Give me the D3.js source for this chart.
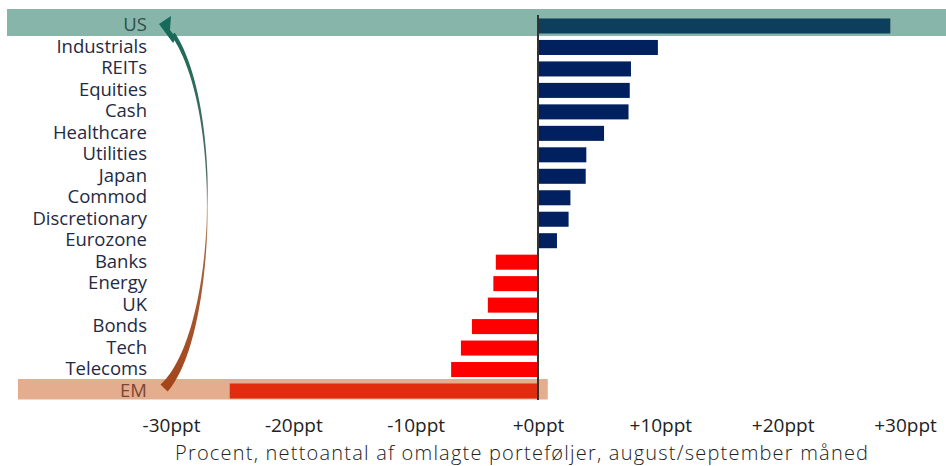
<!DOCTYPE html>
<html>
<head>
<meta charset="utf-8">
<script src="https://cdn.jsdelivr.net/npm/d3@7"></script>
<style>
  html, body { margin: 0; padding: 0; background: #fff; }
  svg { display: block; }
  text { font-family: "Open Sans", "DejaVu Sans", sans-serif; }
</style>
</head>
<body>
<svg id="chart" width="946" height="466"></svg>
<script>
// Net share of rebalanced portfolios, ppt
const categories = ["US", "Industrials", "REITs", "Equities", "Cash", "Healthcare", "Utilities",
  "Japan", "Commod", "Discretionary", "Eurozone", "Banks", "Energy", "UK", "Bonds", "Tech",
  "Telecoms", "EM"];
const values = [28.8, 9.8, 7.6, 7.5, 7.4, 5.4, 3.95, 3.9, 2.65, 2.5, 1.55, -3.45, -3.65, -4.1,
  -5.4, -6.3, -7.1, -25.2];
const tickValues = [-30, -20, -10, 0, 10, 20, 30];
const tickLabels = ["-30ppt", "-20ppt", "-10ppt", "+0ppt", "+10ppt", "+20ppt", "+30ppt"];
const axisTitle = "Procent, nettoantal af omlagte porteføljer, august/september måned";

const svg = d3.select("#chart");

const x = d3.scaleLinear().domain([-30, 30]).range([171, 905]);
const y = d3.scaleBand().domain(categories).range([15.26, 401.74])
  .paddingInner(0.3).paddingOuter(0.15);

function barColor(d, i) {
  if (d === "US") return "#0d3f5c";
  if (d === "EM") return "#e22c10";
  return values[i] >= 0 ? "#00205f" : "#ff0000";
}

// Highlight bands for the two extremes
svg.append("rect").attr("x", 7).attr("width", 939)
  .attr("y", y("US") - 9.5).attr("height", 27).attr("fill", "#88b5a9");
svg.append("rect").attr("x", 18).attr("width", x(0.8) - 18)
  .attr("y", y("EM") - 4.5).attr("height", 20.5).attr("fill", "#e4ad8e");

// Bars
svg.append("g").selectAll("rect").data(categories).join("rect")
  .attr("x", (d, i) => x(Math.min(0, values[i])))
  .attr("width", (d, i) => Math.abs(x(values[i]) - x(0)))
  .attr("y", d => y(d))
  .attr("height", y.bandwidth())
  .attr("fill", barColor);

// Category labels
svg.append("g").selectAll("text").data(categories).join("text")
  .attr("x", 147)
  .attr("y", d => y(d) + y.bandwidth() / 2 - 2)
  .attr("dominant-baseline", "central")
  .attr("text-anchor", "end")
  .attr("font-size", 18.5)
  .attr("fill", d => d === "US" ? "#2f4f4a" : d === "EM" ? "#7a4634" : "#1f2a44")
  .text(d => d);

// Zero line
svg.append("line").attr("x1", x(0)).attr("x2", x(0))
  .attr("y1", 15).attr("y2", 400)
  .attr("stroke", "#333").attr("stroke-width", 2);

// Bottom axis (labels only)
const axis = d3.axisBottom(x).tickValues(tickValues)
  .tickFormat((d, i) => tickLabels[i]).tickSize(0).tickPadding(0);
const gAxis = svg.append("g").attr("transform", "translate(0,418)").call(axis);
gAxis.select(".domain").remove();
gAxis.selectAll("text").attr("font-size", 19).attr("fill", "#222")
  .attr("font-family", "'Open Sans', sans-serif").attr("dy", "0.75em");

svg.append("text").attr("x", 175).attr("y", 460).attr("text-anchor", "start")
  .attr("font-size", 20).attr("font-weight", 300).attr("fill", "#222")
  .attr("textLength", 693).attr("lengthAdjust", "spacing")
  .text(axisTitle);

// Curved arrow from EM up to US
const defs = svg.append("defs");
const grad = defs.append("linearGradient").attr("id", "arrowGrad")
  .attr("gradientUnits", "userSpaceOnUse")
  .attr("x1", 0).attr("x2", 0).attr("y1", 20).attr("y2", 392);
grad.append("stop").attr("offset", 0).attr("stop-color", "#17695a");
grad.append("stop").attr("offset", 0.42).attr("stop-color", "#4f6e5f");
grad.append("stop").attr("offset", 0.5).attr("stop-color", "#c9b9a8");
grad.append("stop").attr("offset", 0.6).attr("stop-color", "#a8653e");
grad.append("stop").attr("offset", 1).attr("stop-color", "#a3441a");

const P = [[164, 388], [216, 335], [224, 110], [173, 34]];
function bez(t) {
  const u = 1 - t;
  const a = u * u * u, b = 3 * u * u * t, c = 3 * u * t * t, e = t * t * t;
  return [a * P[0][0] + b * P[1][0] + c * P[2][0] + e * P[3][0],
          a * P[0][1] + b * P[1][1] + c * P[2][1] + e * P[3][1]];
}
function width(t) {
  if (t < 0.5) return 1 + 9 * Math.pow(1 - t / 0.5, 1.6);
  return 1 + 3.5 * Math.pow((t - 0.5) / 0.5, 1.5);
}
const left = [], right = [];
const N = 80;
for (let k = 0; k <= N; k++) {
  const t = k / N;
  const p = bez(t), p2 = bez(Math.min(1, t + 0.001)), p1 = bez(Math.max(0, t - 0.001));
  let dx = p2[0] - p1[0], dy = p2[1] - p1[1];
  const len = Math.hypot(dx, dy); dx /= len; dy /= len;
  const nx = -dy, ny = dx, w = width(t) / 2;
  left.push([p[0] + nx * w, p[1] + ny * w]);
  right.push([p[0] - nx * w, p[1] - ny * w]);
}
const outline = left.concat(right.reverse());
svg.append("path")
  .attr("d", d3.line()(outline) + "Z")
  .attr("fill", "url(#arrowGrad)");
svg.append("path")
  .attr("d", "M159,24 L171,16 L170,30 L176,38 L173,43 Z")
  .attr("fill", "#17695a");
</script>
</body>
</html>
